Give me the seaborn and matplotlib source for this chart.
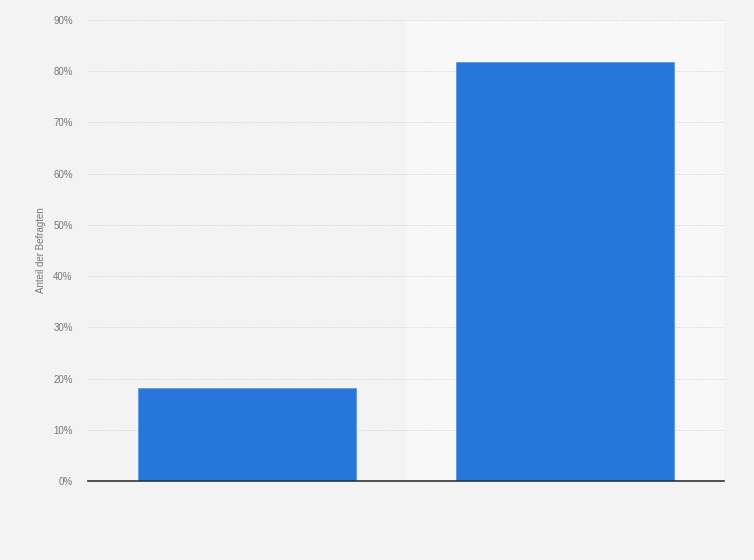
import matplotlib
matplotlib.use("Agg")
import matplotlib.pyplot as plt
import seaborn as sns
import pandas as pd
from matplotlib.ticker import FuncFormatter, MultipleLocator

categories = ["Kategorie 1", "Kategorie 2"]
values = [18.2, 81.8]

df = pd.DataFrame({"Kategorie": categories, "Anteil": values})

sns.set_theme(style="white")
plt.rcParams['font.family'] = ['Liberation Sans', 'DejaVu Sans']

fig = plt.figure(figsize=(7.54, 5.6), dpi=100, facecolor="#f3f3f3")
ax = fig.add_axes([88/754, 1-481/560, (724-88)/754, (481-20)/560])
ax.set_facecolor("#f3f3f3")

ax.axvspan(0.5, 1.5, color="#f8f8f8", zorder=0, lw=0)

sns.barplot(data=df, x="Kategorie", y="Anteil", color="#2776db", width=0.686,
            saturation=1, ax=ax, zorder=3, edgecolor="#5a9be8", linewidth=0.6)

ax.set_xlim(-0.5, 1.5)
ax.set_ylim(0, 90)
ax.yaxis.set_major_locator(MultipleLocator(10))
ax.yaxis.set_major_formatter(FuncFormatter(lambda v, p: f"{int(v)}%"))
ax.grid(axis="y", color="#d0d0d0", linestyle=(0, (1, 1.5)), linewidth=0.7, zorder=1)
ax.set_axisbelow(True)

for s in ["top", "right", "left"]:
    ax.spines[s].set_visible(False)
ax.spines["bottom"].set_color("#333333")
ax.spines["bottom"].set_linewidth(1.2)
ax.spines["bottom"].set_zorder(4)

ax.set_xticks([0, 1])
ax.set_xticklabels(["", ""])
ax.tick_params(axis="x", length=0)
ax.tick_params(axis="y", length=0, labelsize=7, labelcolor="#777777", pad=11)
ax.set_xlabel("")
ax.set_ylabel("Anteil der Befragten", fontsize=7, color="#777777", labelpad=5)

fig.savefig("out.png", dpi=100, facecolor=fig.get_facecolor())
